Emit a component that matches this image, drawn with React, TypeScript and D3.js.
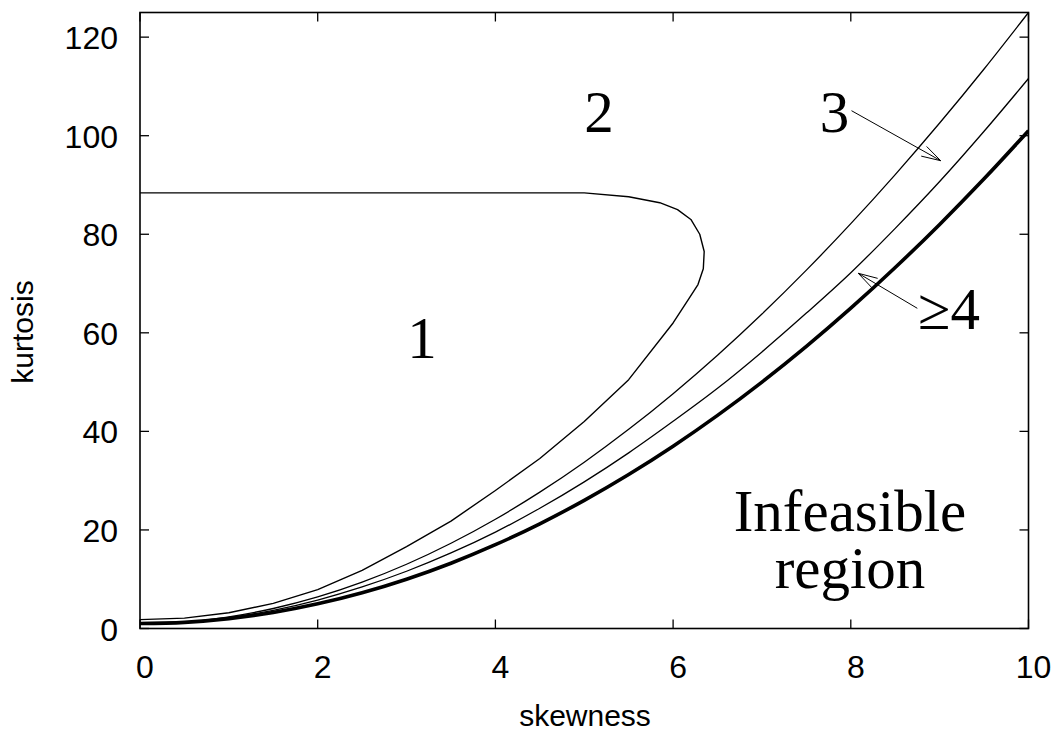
import React from "react";
import * as d3 from "d3";

const skew = [0, 0.5, 1, 1.5, 2, 2.5, 3, 3.5, 4, 4.5, 5, 5.5, 6, 6.5, 7, 7.5, 8, 8.5, 9, 9.5, 10];
const kurtBoundary = [1, 1.25, 2, 3.25, 5, 7.25, 10, 13.25, 17, 21.25, 26, 31.25, 37, 43.25, 50, 57.25, 65, 73.25, 82, 91.25, 101];
const kurtMid = [1.1, 1.31, 2.21, 3.7, 5.78, 8.44, 11.62, 15.33, 19.56, 24.39, 29.75, 35.64, 42.04, 48.74, 56.13, 64.0, 72.2, 81.2, 90.7, 100.9, 111.6];
const kurtUpper = [1.2, 1.34, 2.37, 4.06, 6.41, 9.41, 13.04, 17.3, 22.18, 27.67, 33.75, 40.42, 47.66, 55.46, 63.82, 72.72, 82.15, 92.11, 102.57, 113.54, 125];

const region1Skew = [0, 5.0, 5.5, 5.85, 6.05, 6.2, 6.3, 6.35, 6.34, 6.28, 6.18, 6.0, 5.5, 5.0, 4.5, 4.0, 3.5, 3.0, 2.5, 2.0, 1.5, 1.0, 0.5, 0];
const region1Kurt = [88.4, 88.4, 87.6, 86.4, 85.0, 83.0, 80.0, 76.5, 73.0, 69.8, 67.0, 62.0, 50.5, 42.0, 34.5, 28.0, 21.8, 16.6, 11.8, 7.9, 5.1, 3.2, 2.1, 1.8];

const xTicks = [0, 2, 4, 6, 8, 10];
const yTicks = [0, 20, 40, 60, 80, 100, 120];

const W = 1057, H = 736;
const L = 140, R = 1028.5, T = 12.5, B = 628.5;

export default function App() {
  const x = d3.scaleLinear().domain([0, 10]).range([L, R]);
  const y = d3.scaleLinear().domain([0, 125]).range([B, T]);
  const smooth = d3.line<[number, number]>().x(d => x(d[0])).y(d => y(d[1])).curve(d3.curveMonotoneX);
  const poly = d3.line<[number, number]>().x(d => x(d[0])).y(d => y(d[1]));
  const pts = (ks: number[]) => skew.map((s, i) => [s, ks[i]] as [number, number]);
  const r1 = region1Skew.map((s, i) => [s, region1Kurt[i]] as [number, number]);
  const tick = 9;
  const sans = "'Liberation Sans', Arial, Helvetica, sans-serif";
  const serif = "'Liberation Serif', 'Times New Roman', serif";

  const arrow = (x1: number, y1: number, x2: number, y2: number) => {
    const a = Math.atan2(y2 - y1, x2 - x1);
    const len = 20, half = 0.28;
    const p1 = [x2 - len * Math.cos(a - half), y2 - len * Math.sin(a - half)];
    const p2 = [x2 - len * Math.cos(a + half), y2 - len * Math.sin(a + half)];
    return (
      <g stroke="#000" strokeWidth={1} fill="none">
        <line x1={x1} y1={y1} x2={x2} y2={y2} />
        <polyline points={`${p1[0]},${p1[1]} ${x2},${y2} ${p2[0]},${p2[1]}`} />
      </g>
    );
  };

  return (
    <svg width={W} height={H} style={{ position: "absolute", left: 0, top: 0, background: "#fff" }}>
      <defs>
        <clipPath id="plot">
          <rect x={L} y={T} width={R - L} height={B - T} />
        </clipPath>
      </defs>
      <rect x={0} y={0} width={W} height={H} fill="#fff" />
      <g clipPath="url(#plot)" fill="none" stroke="#000" strokeLinejoin="round">
        <path d={poly(r1) || ""} strokeWidth={1.4} />
        <path d={smooth(pts(kurtUpper)) || ""} strokeWidth={1.3} />
        <path d={smooth(pts(kurtMid)) || ""} strokeWidth={1.3} />
        <path d={smooth(pts(kurtBoundary)) || ""} strokeWidth={3.6} />
      </g>
      <rect x={L} y={T} width={R - L} height={B - T} fill="none" stroke="#000" strokeWidth={1.6} />
      {xTicks.map(t => (
        <g key={"x" + t}>
          <line x1={x(t)} x2={x(t)} y1={B} y2={B - tick} stroke="#000" strokeWidth={1.3} />
          <line x1={x(t)} x2={x(t)} y1={T} y2={T + tick} stroke="#000" strokeWidth={1.3} />
          <text x={x(t) + 5} y={678} textAnchor="middle" fontFamily={sans} fontSize={32}>{t}</text>
        </g>
      ))}
      {yTicks.map(t => (
        <g key={"y" + t}>
          <line x1={L} x2={L + tick} y1={y(t)} y2={y(t)} stroke="#000" strokeWidth={1.3} />
          <line x1={R} x2={R - tick} y1={y(t)} y2={y(t)} stroke="#000" strokeWidth={1.3} />
          <text x={118} y={y(t) + 12} textAnchor="end" fontFamily={sans} fontSize={32}>{t}</text>
        </g>
      ))}
      <text x={585} y={726} textAnchor="middle" fontFamily={sans} fontSize={30}>skewness</text>
      <text transform={`translate(33,332) rotate(-90)`} textAnchor="middle" fontFamily={sans} fontSize={30}>kurtosis</text>

      <text x={422} y={358} textAnchor="middle" fontFamily={serif} fontSize={59}>1</text>
      <text x={599} y={132} textAnchor="middle" fontFamily={serif} fontSize={59}>2</text>
      <text x={834.5} y={132} textAnchor="middle" fontFamily={serif} fontSize={59}>3</text>
      <text x={918} y={329} textAnchor="start" fontFamily={serif} fontSize={59}>≥4</text>
      {arrow(851.5, 110.7, 940.7, 160.7)}
      {arrow(917.3, 308.3, 858.3, 273.3)}
      <text x={850} y={531} textAnchor="middle" fontFamily={serif} fontSize={59}>Infeasible</text>
      <text x={850} y={588} textAnchor="middle" fontFamily={serif} fontSize={59}>region</text>
    </svg>
  );
}
